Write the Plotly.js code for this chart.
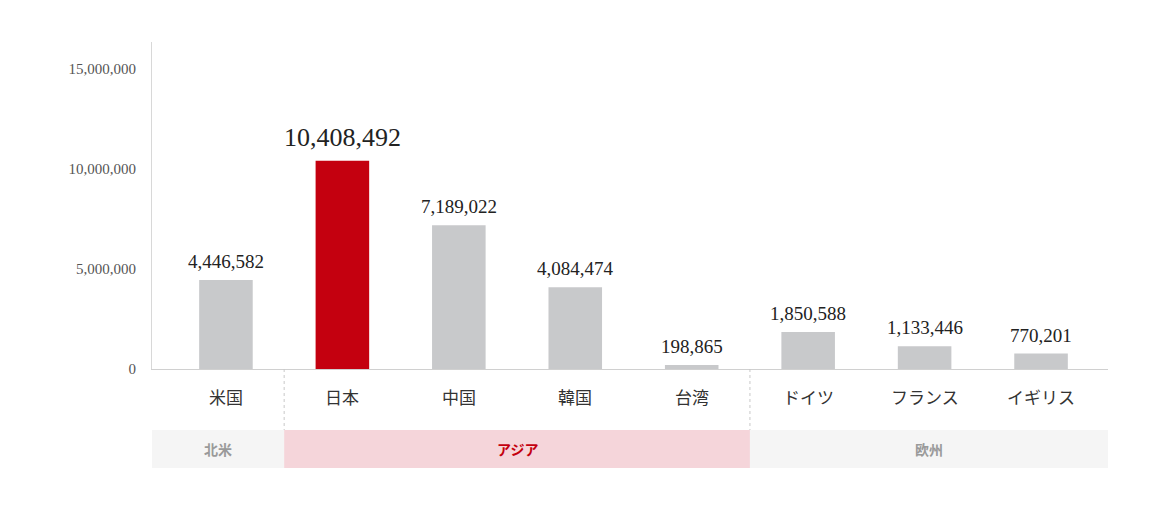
<!DOCTYPE html>
<html><head><meta charset="utf-8">
<script src="https://cdn.plot.ly/plotly-3.0.1.min.js"></script>
<style>html,body{margin:0;padding:0;background:#fff}#chart{width:1158px;height:509px}</style>
</head><body><div id="chart"></div>
<script>
const categories = ["米国","日本","中国","韓国","台湾","ドイツ","フランス","イギリス"];
const values = [4446582,10408492,7189022,4084474,198865,1850588,1133446,770201];
const highlight = "日本";
const groupNames = ["北米","アジア","欧州"];
const groupStart = [0,1,5];
const groupEnd = [0,4,7];
const yTicks = [0,5000000,10000000,15000000];

const xMin = -0.635, xMax = 7.575;
const serif = "'Liberation Serif', 'Times New Roman', serif";
const cjk = "'Noto Sans CJK JP', sans-serif";

const xs = categories.map((c,i)=>i);
const colors = categories.map(c => c===highlight ? "#c4000f" : "#c8c9cb");

const fmt = v => v.toLocaleString("en-US");

const annotations = [];
values.forEach((v,i)=>{
  const hl = categories[i]===highlight;
  annotations.push({x:i, y:v, xref:"x", yref:"y", text:fmt(v), showarrow:false,
    yanchor:"bottom", yshift: hl?7:6, font:{family:serif, size: hl?26:19, color:"#222"}});
  annotations.push({x:i, y:-0.085, xref:"x", yref:"paper", text:categories[i], showarrow:false,
    yanchor:"middle", font:{family:cjk, size:17, color:"#333"}});
});

const shapes = [];
const bandTop = -0.1865, bandBot = -0.303;
groupNames.forEach((g,k)=>{
  const hi = categories.indexOf(highlight);
  const hl = groupStart[k] <= hi && hi <= groupEnd[k];
  const x0 = groupStart[k]===0 ? xMin : groupStart[k]-0.5;
  const x1 = groupEnd[k]===categories.length-1 ? xMax : groupEnd[k]+0.5;
  shapes.push({type:"rect", xref:"x", yref:"paper", x0:x0, x1:x1, y0:bandBot, y1:bandTop,
    fillcolor: hl ? "#f5d5da" : "#f5f5f5", line:{width:0}, layer:"below"});
  annotations.push({x:(x0+x1)/2, y:(bandTop+bandBot)/2, xref:"x", yref:"paper", text:"<b>"+g+"</b>",
    showarrow:false, xanchor:"center", yanchor:"middle",
    font:{family:cjk, size:14, color: hl ? "#c4000f" : "#9a9a9a"}});
  if (k>0) {
    shapes.push({type:"line", xref:"x", yref:"paper", x0:x0, x1:x0, y0:0, y1:bandTop,
      line:{color:"#c8c8c8", width:1, dash:"dot"}});
  }
});

const trace = {type:"bar", x:xs, y:values, width:0.46, marker:{color:colors}, hoverinfo:"none"};

const layout = {
  width:1158, height:509,
  margin:{l:152, r:50, t:42, b:140},
  paper_bgcolor:"#fff", plot_bgcolor:"#fff",
  showlegend:false,
  xaxis:{range:[xMin,xMax], showticklabels:false, showgrid:false, zeroline:false,
    showline:true, linecolor:"#d0d0d0", linewidth:1, ticks:"", fixedrange:true},
  yaxis:{range:[0,16350000], tickvals:yTicks, ticktext:yTicks.map(fmt), showgrid:false, zeroline:false,
    showline:true, linecolor:"#d8d8d8", linewidth:1, ticks:"", ticklabelstandoff:12,
    tickfont:{family:serif, size:15, color:"#555"}, fixedrange:true},
  annotations:annotations,
  shapes:shapes
};
Plotly.newPlot("chart",[trace],layout,{staticPlot:true});
</script></body></html>
